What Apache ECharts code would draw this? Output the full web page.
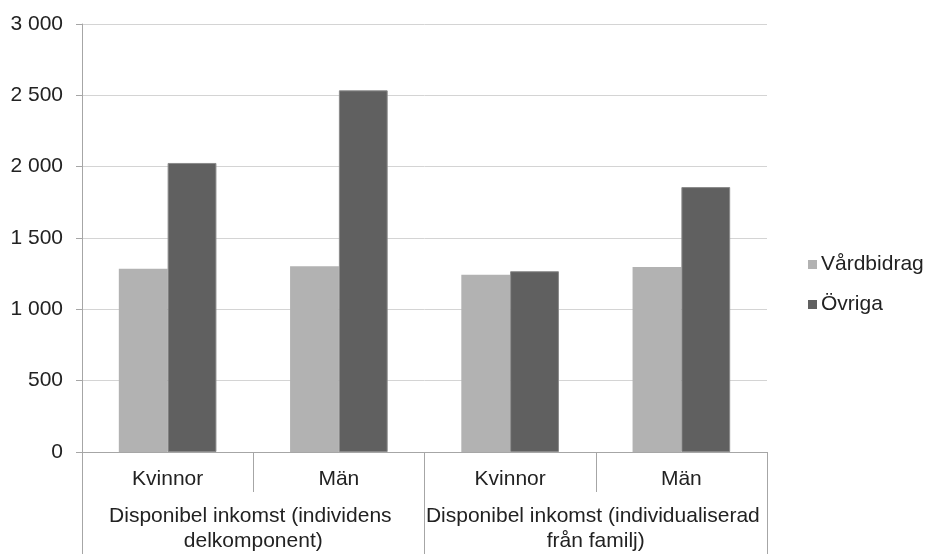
<!DOCTYPE html>
<html>
<head>
<meta charset="utf-8">
<script src="https://cdn.jsdelivr.net/npm/echarts@6/dist/echarts.min.js"></script>
<style>
  html, body { margin: 0; padding: 0; background: #fff; }
  #chart { width: 927px; height: 554px; }
</style>
</head>
<body>
<div id="chart"></div>
<script>
// Subcategories (inner axis) and the two income definitions (outer axis)
const subCategories = ['Kvinnor', 'Män', 'Kvinnor', 'Män'];
const groupNames = [
  'Disponibel inkomst (individens delkomponent)',
  'Disponibel inkomst (individualiserad från familj)'
];
const seriesNames = ['Vårdbidrag', 'Övriga'];
const vardbidrag = [1285, 1302, 1242, 1297];
const ovriga = [2026, 2535, 1267, 1857];
const yTicks = { min: 0, max: 3000, step: 500 };

const FONT = 'Liberation Sans, Arial, sans-serif';
const FS = 21;
const TEXT = '#222';
const AXIS = '#a6a6a6';

const chart = echarts.init(document.getElementById('chart'), null, { renderer: 'canvas' });

const fmtThousands = v => String(v).replace(/\B(?=(\d{3})+(?!\d))/g, ' ');

chart.setOption({
  animation: false,
  backgroundColor: '#fff',
  textStyle: { fontFamily: FONT },
  grid: { left: 82, right: 160, top: 24, bottom: 99, containLabel: false },
  legend: {
    orient: 'vertical',
    left: 808,
    top: 254,
    padding: 0,
    itemWidth: 9,
    itemHeight: 9,
    itemGap: 19,
    icon: 'rect',
    itemStyle: { borderWidth: 0 },
    textStyle: { fontSize: FS, color: TEXT, fontFamily: FONT, padding: [0, 0, 0, -1] },
    data: seriesNames
  },
  xAxis: [
    {
      type: 'category',
      data: subCategories,
      position: 'bottom',
      axisLine: { show: true, lineStyle: { color: AXIS, width: 1 } },
      axisTick: { show: true, interval: 0, length: 40, lineStyle: { color: AXIS } },
      axisLabel: { interval: 0, margin: 17, fontSize: FS, color: TEXT, fontFamily: FONT }
    },
    {
      type: 'category',
      data: groupNames,
      position: 'bottom',
      axisLine: { show: false },
      axisTick: { show: true, interval: 0, length: 110, lineStyle: { color: AXIS } },
      axisLabel: {
        interval: 0, margin: 52, fontSize: FS, lineHeight: 25, color: TEXT, fontFamily: FONT,
        width: 343, overflow: 'break', align: 'center'
      }
    }
  ],
  yAxis: {
    type: 'value',
    min: yTicks.min,
    max: yTicks.max,
    interval: yTicks.step,
    axisLine: { show: true, lineStyle: { color: AXIS } },
    axisTick: { show: true, length: 6, lineStyle: { color: AXIS } },
    splitLine: { show: true, lineStyle: { color: '#d4d4d4', width: 1 } },
    axisLabel: { margin: 19, fontSize: FS, color: TEXT, fontFamily: FONT, formatter: fmtThousands }
  },
  series: [
    {
      name: seriesNames[0],
      type: 'bar',
      data: vardbidrag,
      barGap: '0%',
      barCategoryGap: '43%',
      itemStyle: { color: '#b2b2b2' }
    },
    {
      name: seriesNames[1],
      type: 'bar',
      data: ovriga,
      barGap: '0%',
      barCategoryGap: '43%',
      itemStyle: { color: '#606060', borderColor: '#8a8a8a', borderWidth: 1 }
    }
  ]
});
</script>
</body>
</html>
